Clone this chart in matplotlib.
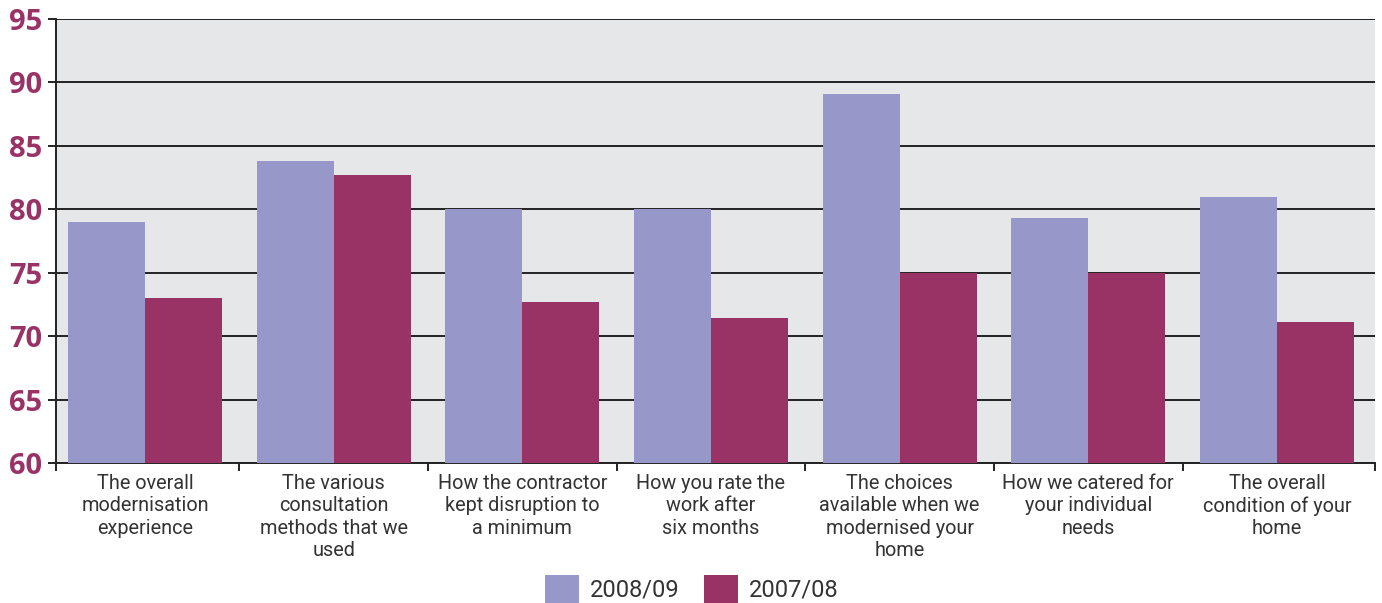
import matplotlib.pyplot as plt
import numpy as np

categories = [
    "The overall\nmodernisation\nexperience",
    "The various\nconsultation\nmethods that we\nused",
    "How the contractor\nkept disruption to\na minimum",
    "How you rate the\nwork after\nsix months",
    "The choices\navailable when we\nmodernised your\nhome",
    "How we catered for\nyour individual\nneeds",
    "The overall\ncondition of your\nhome",
]
series_names = ["2008/09", "2007/08"]
values_2008_09 = [79.0, 83.8, 80.0, 80.0, 89.1, 79.3, 81.0]
values_2007_08 = [73.0, 82.7, 72.7, 71.4, 75.0, 75.0, 71.1]
yticks = [60, 65, 70, 75, 80, 85, 90, 95]

c1 = "#9797c9"
c2 = "#993366"
bg = "#e6e7e9"
txt = "#333333"

plt.rcParams['font.family'] = ['Roboto', 'DejaVu Sans']

fig = plt.figure(figsize=(13.82, 6.03), dpi=100)
ax = fig.add_axes([0.0405, 0.2322, 0.9544, 0.7363])
ax.set_facecolor(bg)

x = np.arange(len(categories))
w = 0.408
ax.bar(x - w/2, values_2008_09, width=w, color=c1, label=series_names[0], zorder=3)
ax.bar(x + w/2, values_2007_08, width=w, color=c2, label=series_names[1], zorder=3)

xmin, xmax = -0.4717, 6.519
ax.set_xlim(xmin, xmax)
ax.set_ylim(60, 95)
ax.set_yticks(yticks)
ax.set_yticklabels([str(v) for v in yticks], color=c2, fontsize=21, fontweight='bold',
                   family=['Open Sans', 'DejaVu Sans'])
ax.yaxis.grid(True, color="#222222", linewidth=1.4, zorder=1)
ax.set_axisbelow(True)

ax.set_xticks(x)
ax.set_xticklabels(categories, fontsize=14.3, color=txt, linespacing=1.22)
ax.tick_params(axis='x', which='major', length=0, pad=8)
ax.set_xticks([xmin] + list(np.arange(0.5, len(categories) - 1)) + [xmax], minor=True)
ax.tick_params(axis='x', which='minor', length=6, width=1.4, color="#222222", direction='out')
ax.tick_params(axis='y', length=6, width=1.4, color="#222222", pad=4)

for s in ['top', 'right']:
    ax.spines[s].set_visible(False)
ax.spines['left'].set_color("#222222")
ax.spines['left'].set_linewidth(1.4)
ax.spines['bottom'].set_color("#222222")
ax.spines['bottom'].set_linewidth(1.4)

leg = fig.legend(loc='lower center', bbox_to_anchor=(0.5005, -0.035), ncol=2, frameon=False,
                 fontsize=17, handlelength=1.45, handleheight=1.45, handletextpad=0.45,
                 columnspacing=1.05)
for t in leg.get_texts():
    t.set_color(txt)

fig.savefig("out.png", dpi=100)
